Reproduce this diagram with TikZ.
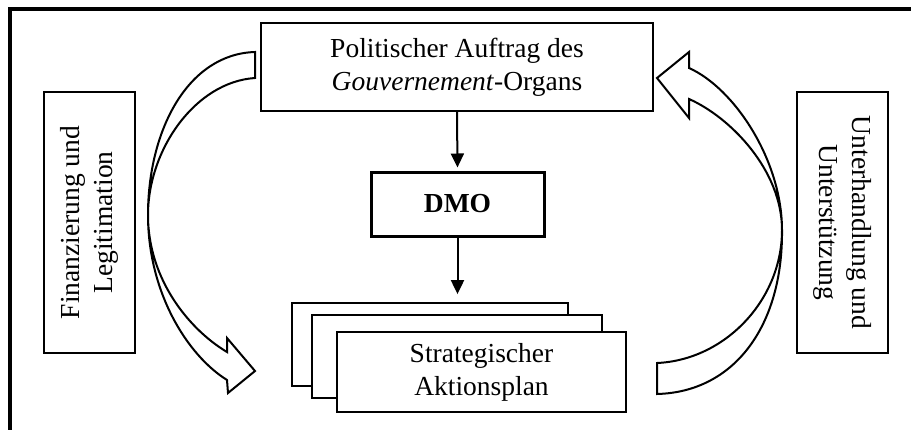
\documentclass[tikz,border=0pt]{standalone}
\usepackage{fontspec}
\setmainfont{Liberation Serif}
\usetikzlibrary{arrows.meta}
\begin{document}
\begin{tikzpicture}[x=1pt,y=-1pt,
  every node/.style={font=\fontsize{27.5}{33}\selectfont},
  box/.style={draw,line width=1.8pt,fill=white,inner sep=0pt,align=center},
  conn/.style={line width=2pt,-{Triangle[length=14pt,width=13pt]}},
  blockarrow/.style={draw,line width=2pt,fill=white,line join=miter}]
\useasboundingbox (0,0) rectangle (911,429);
\fill[white] (0,0) rectangle (911,429);
% outer frame
\draw[line width=3.5pt] (10,440) -- (10,9) -- (920,9);

% main boxes
\node[box,minimum width=392pt,minimum height=88pt] (auftrag) at (457,67)
  {Politischer Auftrag des\\\textit{Gouvernement}-Organs};
\node[box,line width=3pt,minimum width=173pt,minimum height=64pt] (dmo) at (457.5,204)
  {\textbf{DMO}};

% stacked action plan
\node[box,minimum width=276pt,minimum height=83pt] (plan1) at (430,344.5) {};
\node[box,minimum width=290pt,minimum height=83pt] (plan2) at (457,356.5) {};
\node[box,minimum width=289pt,minimum height=80pt] (plan3) at (481.5,372)
  {Strategischer\\Aktionsplan};

% side labels
\node[box,minimum width=261pt,minimum height=91pt,rotate=90] (finanz) at (89.5,222.5)
  {Finanzierung und\\Legitimation};
\node[box,minimum width=261pt,minimum height=91pt,rotate=-90] (unter) at (842.5,222.5)
  {Unterhandlung und\\Unterstützung};

% vertical flow
\draw[conn,shorten >=3pt] (auftrag.south) -- (dmo.north);
\draw[conn,shorten >=8pt] (dmo.south) -- (dmo.south |- plan1.north);

% curved block arrow, left side
\draw[blockarrow] (255,52) .. controls (188,54) and (148,130) .. (148,215)
  .. controls (148,292) and (187,355) .. (227,380)
  -- (228,393) -- (255,371) -- (227,338) -- (227,352)
  .. controls (190,330) and (148,280) .. (148,215)
  .. controls (148,150) and (195,82) .. (255,78) -- cycle;

% curved block arrow, right side
\draw[blockarrow] (657,394) .. controls (735,392) and (783,325) .. (782,230)
  .. controls (782,160) and (734,88) .. (689,68)
  -- (689,52) -- (657,78) -- (689,118) -- (689,99)
  .. controls (730,117) and (782,170) .. (782,230)
  .. controls (782,300) and (725,360) .. (657,363) -- cycle;
\end{tikzpicture}
\end{document}
